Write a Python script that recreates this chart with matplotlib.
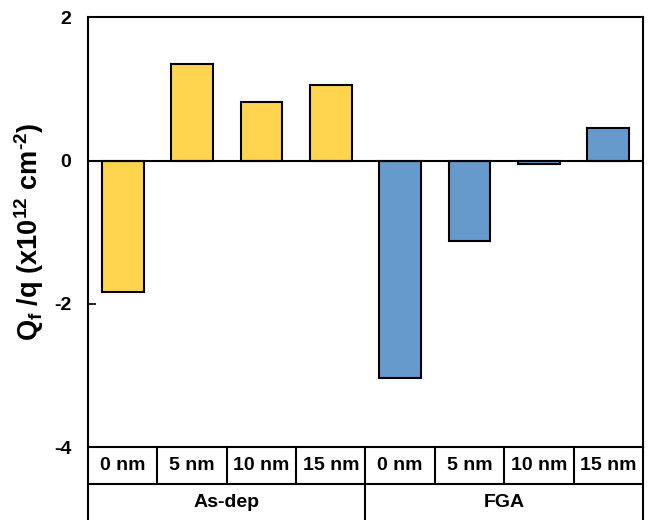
import numpy as np
import matplotlib
matplotlib.use('Agg')
import matplotlib.pyplot as plt
from matplotlib.lines import Line2D

plt.rcParams['font.family'] = 'Liberation Sans'
plt.rcParams['font.weight'] = 'bold'
plt.rcParams['mathtext.fontset'] = 'custom'
plt.rcParams['mathtext.bf'] = 'Liberation Sans:bold'
plt.rcParams['mathtext.rm'] = 'Liberation Sans:bold'
plt.rcParams['mathtext.sf'] = 'Liberation Sans:bold'
plt.rcParams['mathtext.default'] = 'bf'

thickness = ['0 nm', '5 nm', '10 nm', '15 nm']
groups = ['As-dep', 'FGA']
asdep_vals = [-1.83, 1.34, 0.81, 1.05]
fga_vals = [-3.03, -1.13, -0.05, 0.45]
yticks = [-4, -2, 0, 2]

fig = plt.figure(figsize=(6.52, 5.20), dpi=100)
ax = fig.add_axes([0.135, 0.140, 0.851, 0.827])

n = len(thickness)
x1 = np.arange(n)
x2 = np.arange(n) + n
ax.bar(x1, asdep_vals, width=0.6, color='#FFD54F', edgecolor='black', linewidth=1.5, zorder=2)
ax.bar(x2, fga_vals, width=0.6, color='#6699CC', edgecolor='black', linewidth=1.5, zorder=2)
ax.axhline(0, color='black', linewidth=1.5, zorder=3)

ax.set_xlim(-0.5, 2 * n - 0.5)
ax.set_ylim(-4, 2)
ax.set_yticks(yticks)
ax.set_yticklabels([str(t) for t in yticks], fontsize=14, fontweight='bold')
ax.tick_params(axis='y', direction='in', length=6, width=1.2, pad=12)
ax.set_xticks([])
for s in ax.spines.values():
    s.set_linewidth(1.5)

ax.set_ylabel(r'Q$_{\mathsf{f}}$ /q (x10$^{12}$ cm$^{\text{-2}}$)', fontsize=19.5, fontweight='bold', labelpad=6)

# category table under the axes
r1 = -37 / 430
r2 = -80 / 430
trans = ax.get_xaxis_transform()
kw = dict(color='black', linewidth=1.5, transform=trans, clip_on=False)
ax.add_line(Line2D([-0.5, 2 * n - 0.5], [r1, r1], **kw))
for xx in [-0.5, 2 * n - 0.5]:
    ax.add_line(Line2D([xx, xx], [0, r2], **kw))
for i in range(1, 2 * n):
    ax.add_line(Line2D([i - 0.5, i - 0.5], [0, r1], **kw))
ax.add_line(Line2D([n - 0.5, n - 0.5], [r1, r2], **kw))

labels = thickness + thickness
for i, lab in enumerate(labels):
    ax.text(i, r1 / 2, lab, transform=trans, ha='center', va='center', fontsize=14, fontweight='bold')
for g, lab in enumerate(groups):
    ax.text(g * n + (n - 1) / 2, r1 - 36 / 430 / 2, lab, transform=trans, ha='center', va='center',
            fontsize=14, fontweight='bold')

fig.savefig('out.png', dpi=100)
